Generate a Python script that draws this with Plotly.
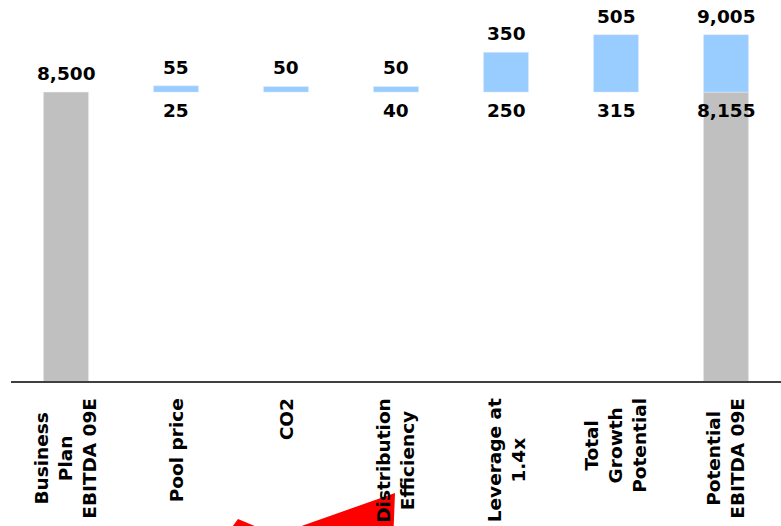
import plotly.graph_objects as go

# Categories along the bridge (line breaks as shown under each bar)
categories = [
    "Business<br>Plan<br>EBITDA 09E",
    "Pool price",
    "CO2",
    "Distribution<br>Efficiency",
    "Leverage at<br>1.4x",
    "Total<br>Growth<br>Potential",
    "Potential<br>EBITDA 09E",
]

# Starting point: business plan EBITDA
plan_ebitda = 8500

# Upside per driver, high and low end of the range (Pool price .. Total Growth Potential)
uplift_high = [55, 50, 50, 350, 505]
uplift_low = [25, None, 40, 250, 315]

# Resulting potential EBITDA range
potential_high = 9005
potential_low = 8155

GREY = "#C0C0C0"
BLUE = "#99CCFF"
FONT = "DejaVu Sans"

n = len(categories)
grey_vals = [plan_ebitda] + [None] * (n - 2) + [plan_ebitda]
blue_vals = [None] + uplift_high + [potential_high - plan_ebitda]
blue_base = [None] + [plan_ebitda] * (n - 1)

fig = go.Figure()
fig.add_trace(go.Bar(x=categories, y=grey_vals, marker_color=GREY,
                     width=0.41, hoverinfo="skip", showlegend=False))
fig.add_trace(go.Bar(x=categories, y=blue_vals, base=blue_base, marker_color=BLUE,
                     width=0.41, hoverinfo="skip", showlegend=False))

annotations = []
label_font = dict(family=FONT, size=18.5, color="black", weight="bold")

# Values above each bar
tops = [plan_ebitda] + [plan_ebitda + v for v in uplift_high] + [potential_high]
top_text = [plan_ebitda] + uplift_high + [potential_high]
for cat, top, val in zip(categories, tops, top_text):
    annotations.append(dict(x=cat, y=top, xref="x", yref="y", text=f"{val:,}",
                            showarrow=False, yanchor="bottom", yshift=6, font=label_font))

# Low end of each range, under the start of the blue bar
lows = [None] + uplift_low + [potential_low]
for cat, low in zip(categories, lows):
    if low is None:
        continue
    annotations.append(dict(x=cat, y=plan_ebitda, xref="x", yref="y", text=f"{low:,}",
                            showarrow=False, yanchor="top", yshift=-6, font=label_font))

# Rotated category labels under the axis, lines centred on each other
for cat in categories:
    annotations.append(dict(x=cat, y=-0.04, xref="x", yref="paper", text=cat,
                            showarrow=False, textangle=-90, yanchor="top", xanchor="center",
                            align="center", font=label_font))

# Red pointer arrow at the bottom of the slide (pixel outline converted to paper units)
W_PLOT, X0, Y_AXIS, H_PLOT = 770, 11, 381, 381
outline = [(395, 493), (276, 535), (238, 519), (219, 545), (393, 545)]
path = "M " + " L ".join(f"{(px - X0) / W_PLOT:.4f},{(Y_AXIS - py) / H_PLOT:.4f}"
                         for px, py in outline) + " Z"

fig.update_layout(
    width=781, height=526,
    margin=dict(l=11, r=0, t=0, b=145),
    paper_bgcolor="white", plot_bgcolor="white",
    barmode="overlay",
    font=dict(family=FONT, color="black"),
    xaxis=dict(showticklabels=False, ticks="", showgrid=False, zeroline=False,
               showline=True, linecolor="#404040", linewidth=1.5, fixedrange=True),
    yaxis=dict(range=[5960, 9310], visible=False, showgrid=False, zeroline=False,
               fixedrange=True),
    annotations=annotations,
    shapes=[dict(type="path", path=path, xref="paper", yref="paper",
                 fillcolor="#FF0000", line=dict(width=0), layer="below")],
)

fig.write_html("out.html")
